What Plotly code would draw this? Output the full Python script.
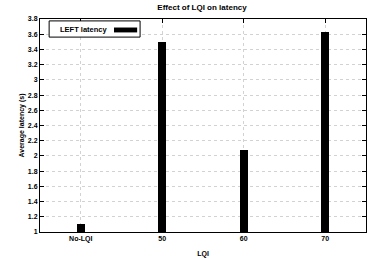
import plotly.graph_objects as go

categories = ["No-LQI", "50", "60", "70"]
latency = [1.1, 3.5, 2.08, 3.63]
series_name = "LEFT latency"
y_ticks = [1, 1.2, 1.4, 1.6, 1.8, 2, 2.2, 2.4, 2.6, 2.8, 3, 3.2, 3.4, 3.6, 3.8]
y_tick_text = ["1", "1.2", "1.4", "1.6", "1.8", "2", "2.2", "2.4", "2.6", "2.8", "3", "3.2", "3.4", "3.6", "3.8"]

font_family = "Liberation Sans, Arial, sans-serif"

fig = go.Figure()
fig.add_trace(go.Bar(
    x=categories, y=latency, base=0, width=0.1,
    marker=dict(color="black", line=dict(width=0)),
    name=series_name, showlegend=False, hoverinfo="skip",
))

fig.update_layout(
    width=370, height=258,
    margin=dict(l=40, r=4, t=19, b=26),
    paper_bgcolor="white", plot_bgcolor="white",
    font=dict(family=font_family, size=7, color="black"),
    title=dict(text="<b>Effect of LQI on latency</b>", x=0.546, xanchor="center",
               y=0.973, yanchor="middle", font=dict(size=8)),
    bargap=0,
    hovermode=False,
)
fig.update_xaxes(
    type="category", range=[-0.5, 3.5], automargin=False,
    showline=True, linecolor="black", linewidth=1, mirror="ticks",
    ticks="inside", ticklen=4, tickcolor="black",
    showgrid=True, gridcolor="#d2d2d2", griddash="dot", gridwidth=1,
    tickfont=dict(size=7, weight="bold", color="black"),
    title=dict(text="<b>LQI</b>", font=dict(size=7), standoff=9),
)
fig.update_yaxes(
    range=[1, 3.8], tickvals=y_ticks, ticktext=y_tick_text, automargin=False,
    showline=True, linecolor="black", linewidth=1, mirror="ticks",
    ticks="inside", ticklen=4, tickcolor="black",
    showgrid=True, gridcolor="#d2d2d2", griddash="dot", gridwidth=1,
    zeroline=False,
    tickfont=dict(size=7, weight="bold", color="black"),
    title=dict(text="<b>Average latency (s)</b>", font=dict(size=7), standoff=2),
)

# gnuplot-style legend box (text with sample on the right)
fig.add_shape(type="rect", xref="paper", yref="paper",
              x0=0.028, x1=0.307, y0=0.915, y1=0.991,
              line=dict(color="black", width=1), fillcolor="white", layer="above")
fig.add_shape(type="rect", xref="paper", yref="paper",
              x0=0.227, x1=0.298, y0=0.937, y1=0.960,
              line=dict(width=0), fillcolor="black", layer="above")
fig.add_annotation(text="<b>" + series_name + "</b>", xref="paper", yref="paper",
                   x=0.215, y=0.952, xanchor="right", yanchor="middle",
                   showarrow=False, font=dict(size=7.5))

fig.write_html("out.html", config={"displayModeBar": False, "staticPlot": True},
               post_script="document.body.style.margin='0';")
